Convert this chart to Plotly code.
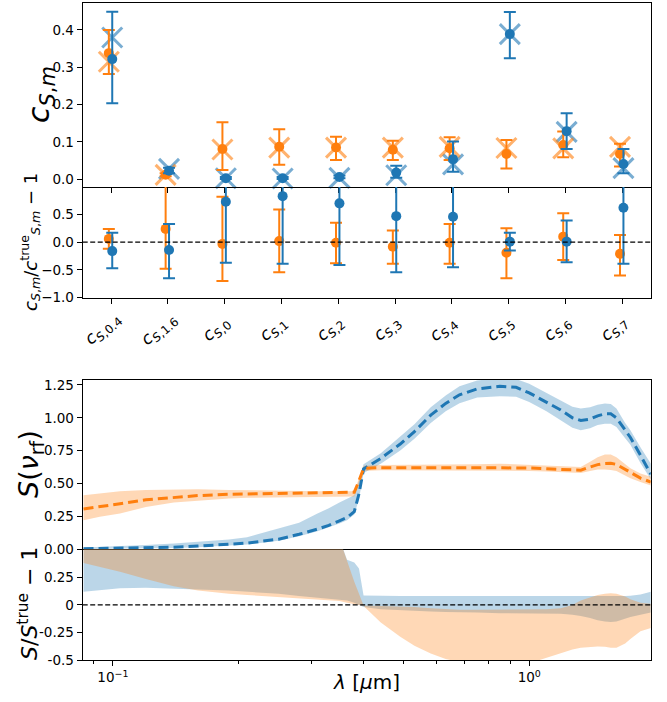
import numpy as np
import plotly.graph_objects as go

# ---------------- data: coefficient panels ----------------
cat_sub = ["0.4", "1.6", "0", "1", "2", "3", "4", "5", "6", "7"]

blue_c = [0.322, 0.023, 0.003, 0.003, 0.006, 0.018, 0.054, 0.389, 0.129, 0.041]
blue_c_hi = [0.449, 0.031, 0.006, 0.006, 0.010, 0.036, 0.101, 0.448, 0.177, 0.081]
blue_c_lo = [0.204, 0.016, 0.001, 0.001, 0.003, 0.004, 0.020, 0.324, 0.081, 0.016]
blue_c_true = [0.380, 0.028, 0.003, 0.002, 0.004, 0.011, 0.040, 0.389, 0.127, 0.030]

orange_c = [0.338, 0.012, 0.081, 0.087, 0.085, 0.079, 0.083, 0.068, 0.092, 0.068]
orange_c_hi = [0.400, 0.016, 0.153, 0.134, 0.114, 0.103, 0.113, 0.105, 0.128, 0.095]
orange_c_lo = [0.282, 0.008, 0.025, 0.039, 0.052, 0.052, 0.052, 0.029, 0.059, 0.034]
orange_c_true = [0.315, 0.012, 0.080, 0.085, 0.085, 0.085, 0.087, 0.084, 0.083, 0.087]

orange_r = [0.06, 0.24, -0.03, 0.02, -0.01, -0.08, -0.01, -0.19, 0.10, -0.21]
orange_r_hi = [0.24, 1.2, 0.82, 0.59, 0.35, 0.21, 0.33, 0.25, 0.52, 0.13]
orange_r_lo = [-0.12, -0.48, -0.70, -0.54, -0.38, -0.39, -0.39, -0.65, -0.32, -0.60]
blue_r = [-0.16, -0.14, 0.73, 0.83, 0.70, 0.47, 0.46, 0.01, 0.01, 0.62]
blue_r_hi = [0.17, 0.33, 1.2, 1.2, 1.2, 1.2, 1.2, 0.17, 0.39, 1.2]
blue_r_lo = [-0.47, -0.65, -0.37, -0.39, -0.41, -0.54, -0.45, -0.15, -0.36, -0.39]

# ---------------- data: spectra panels ----------------
lam = [0.085, 0.093, 0.104, 0.12, 0.14, 0.16, 0.19, 0.21, 0.25, 0.28,
       0.31, 0.33, 0.35, 0.365, 0.38, 0.39, 0.40, 0.44, 0.49, 0.53,
       0.58, 0.63, 0.68, 0.75, 0.85, 0.93, 1.0, 1.1, 1.19, 1.27,
       1.33, 1.40, 1.46, 1.52, 1.57, 1.62, 1.70, 1.75, 1.85, 1.96]

blue_S = [0.002, 0.004, 0.006, 0.009, 0.014, 0.022, 0.035, 0.045, 0.075, 0.112,
          0.152, 0.18, 0.215, 0.24, 0.285, 0.42, 0.61, 0.69, 0.80, 0.895,
          1.02, 1.11, 1.175, 1.22, 1.24, 1.232, 1.19, 1.12, 1.06, 1.00,
          0.98, 0.99, 1.015, 1.03, 1.03, 1.0, 0.905, 0.85, 0.715, 0.57]
blue_S_lo = [0.0, 0.001, 0.002, 0.004, 0.008, 0.014, 0.025, 0.034, 0.062, 0.097,
             0.135, 0.165, 0.195, 0.22, 0.262, 0.38, 0.58, 0.65, 0.75, 0.84,
             0.96, 1.05, 1.11, 1.155, 1.165, 1.16, 1.12, 1.05, 0.98, 0.925,
             0.905, 0.92, 0.945, 0.955, 0.955, 0.93, 0.845, 0.795, 0.655, 0.53]
blue_S_hi = [0.012, 0.016, 0.022, 0.03, 0.042, 0.055, 0.072, 0.09, 0.16, 0.2,
             0.27, 0.31, 0.355, 0.385, 0.41, 0.52, 0.645, 0.73, 0.855, 0.95,
             1.08, 1.17, 1.24, 1.285, 1.30, 1.295, 1.26, 1.19, 1.134, 1.085,
             1.07, 1.08, 1.10, 1.108, 1.105, 1.07, 0.96, 0.905, 0.775, 0.65]

orange_S = [0.305, 0.325, 0.345, 0.375, 0.395, 0.407, 0.417, 0.42, 0.425, 0.428,
            0.43, 0.432, 0.433, 0.433, 0.433, 0.52, 0.615, 0.62, 0.62, 0.62,
            0.62, 0.62, 0.62, 0.622, 0.622, 0.62, 0.618, 0.612, 0.606, 0.60,
            0.60, 0.625, 0.643, 0.652, 0.654, 0.645, 0.605, 0.58, 0.54, 0.51]
orange_S_lo = [0.22, 0.245, 0.27, 0.32, 0.355, 0.37, 0.385, 0.39, 0.392, 0.393,
               0.395, 0.395, 0.397, 0.40, 0.40, 0.50, 0.595, 0.60, 0.60, 0.60,
               0.60, 0.60, 0.60, 0.60, 0.60, 0.598, 0.595, 0.59, 0.585, 0.58,
               0.58, 0.595, 0.605, 0.605, 0.603, 0.595, 0.56, 0.54, 0.51, 0.484]
orange_S_hi = [0.41, 0.425, 0.44, 0.45, 0.455, 0.455, 0.45, 0.447, 0.443, 0.44,
               0.44, 0.44, 0.44, 0.44, 0.44, 0.54, 0.635, 0.64, 0.64, 0.64,
               0.64, 0.64, 0.64, 0.645, 0.65, 0.645, 0.64, 0.635, 0.63, 0.625,
               0.625, 0.665, 0.70, 0.72, 0.72, 0.70, 0.645, 0.615, 0.575, 0.55]

blue_R_lo = [0.12, 0.135, 0.15, 0.155, 0.15, 0.14, 0.13, 0.12, 0.10, 0.08,
             0.065, 0.055, 0.05, 0.04, 0.02, 0.0, -0.02, -0.04, -0.05, -0.055,
             -0.06, -0.065, -0.07, -0.07, -0.075, -0.075, -0.075, -0.075, -0.08, -0.09,
             -0.10, -0.12, -0.14, -0.15, -0.155, -0.15, -0.125, -0.11, -0.09, -0.07]
blue_R_hi = [0.9, 0.9, 0.9, 0.9, 0.9, 0.9, 0.9, 0.9, 0.9, 0.9,
             0.9, 0.9, 0.6, 0.41, 0.385, 0.33, 0.085, 0.08, 0.08, 0.08,
             0.08, 0.08, 0.08, 0.08, 0.078, 0.077, 0.076, 0.075, 0.075, 0.075,
             0.075, 0.075, 0.077, 0.08, 0.08, 0.08, 0.08, 0.083, 0.095, 0.12]
orange_R_lo = [0.38, 0.345, 0.30, 0.235, 0.17, 0.13, 0.10, 0.09, 0.07, 0.055,
               0.045, 0.04, 0.035, 0.02, 0.01, 0.0, -0.01, -0.16, -0.29, -0.37,
               -0.44, -0.49, -0.52, -0.55, -0.56, -0.55, -0.53, -0.48, -0.44, -0.405,
               -0.39, -0.38, -0.378, -0.38, -0.39, -0.39, -0.35, -0.31, -0.24, -0.21]
orange_R_hi = [0.9, 0.9, 0.9, 0.9, 0.9, 0.9, 0.9, 0.9, 0.9, 0.9,
               0.9, 0.9, 0.6, 0.395, 0.21, 0.1, -0.005, -0.01, -0.015, -0.02,
               -0.03, -0.04, -0.045, -0.045, -0.045, -0.045, -0.045, -0.04, -0.03, 0.0,
               0.04, 0.07, 0.09, 0.10, 0.105, 0.10, 0.075, 0.05, 0.02, 0.01]

# ---------------- style ----------------
BLUE = "#1f77b4"
ORANGE = "#ff7f0e"
BLUE_A = "rgba(31,119,180,0.6)"
ORANGE_A = "rgba(255,127,14,0.6)"
BLUE_F = "rgba(31,119,180,0.3)"
ORANGE_F = "rgba(255,127,14,0.3)"
FONT = "DejaVu Sans"
W, H = 667, 702

def px_x(p):
    return p / W

def px_y(p):
    return 1 - p / H

XD = [px_x(82.7), px_x(650.7)]
idx = np.arange(len(cat_sub))
x_orange = idx - 0.04
x_blue = idx + 0.02

fig = go.Figure()

def asym(vals, hi, lo):
    v = np.array(vals)
    return dict(type="data", symmetric=False,
                array=(np.array(hi) - v).tolist(),
                arrayminus=(v - np.array(lo)).tolist())

# panel 1: true values (crosses)
for xs, tv, col in [(x_blue, blue_c_true, BLUE_A), (x_orange, orange_c_true, ORANGE_A)]:
    fig.add_trace(go.Scatter(x=xs, y=tv, mode="markers", xaxis="x", yaxis="y",
                             cliponaxis=False,
                             marker=dict(symbol="x-thin", size=20,
                                         line=dict(width=3, color=col))))
# panel 1: estimates with errors
for xs, v, hi, lo, col in [(x_orange, orange_c, orange_c_hi, orange_c_lo, ORANGE),
                           (x_blue, blue_c, blue_c_hi, blue_c_lo, BLUE)]:
    ey = asym(v, hi, lo)
    ey.update(color=col, thickness=2, width=6)
    fig.add_trace(go.Scatter(x=xs, y=v, mode="markers", xaxis="x", yaxis="y",
                             cliponaxis=False, error_y=ey,
                             marker=dict(size=10, color=col)))

# panel 2: ratios
for xs, v, hi, lo, col in [(x_orange, orange_r, orange_r_hi, orange_r_lo, ORANGE),
                           (x_blue, blue_r, blue_r_hi, blue_r_lo, BLUE)]:
    ey = asym(v, hi, lo)
    ey.update(color=col, thickness=2, width=6)
    fig.add_trace(go.Scatter(x=xs, y=v, mode="markers", xaxis="x2", yaxis="y2",
                             cliponaxis=True, error_y=ey,
                             marker=dict(size=10, color=col)))

# panel 3: bands and dashed curves
for lo, hi, fc in [(blue_S_lo, blue_S_hi, BLUE_F), (orange_S_lo, orange_S_hi, ORANGE_F)]:
    fig.add_trace(go.Scatter(x=lam, y=lo, mode="lines", line=dict(width=0),
                             xaxis="x3", yaxis="y3"))
    fig.add_trace(go.Scatter(x=lam, y=hi, mode="lines", line=dict(width=0),
                             fill="tonexty", fillcolor=fc, xaxis="x3", yaxis="y3"))
for s, col in [(blue_S, BLUE), (orange_S, ORANGE)]:
    fig.add_trace(go.Scatter(x=lam, y=s, mode="lines", xaxis="x3", yaxis="y3",
                             line=dict(color=col, width=3, dash="10px,5px")))

# panel 4: ratio bands
for lo, hi, fc in [(blue_R_lo, blue_R_hi, BLUE_F), (orange_R_lo, orange_R_hi, ORANGE_F)]:
    fig.add_trace(go.Scatter(x=lam, y=lo, mode="lines", line=dict(width=0),
                             xaxis="x4", yaxis="y4"))
    fig.add_trace(go.Scatter(x=lam, y=hi, mode="lines", line=dict(width=0),
                             fill="tonexty", fillcolor=fc, xaxis="x4", yaxis="y4"))

# zero reference lines
for xr, yr in [("x2 domain", "y2"), ("x4 domain", "y4")]:
    fig.add_shape(type="line", xref=xr, yref=yr, x0=0, x1=1, y0=0, y1=0,
                  line=dict(color="black", width=1.3, dash="5px,2.5px"), layer="above")

tickfont = dict(family=FONT, size=13.5, color="black")
common = dict(showline=True, linecolor="black", linewidth=1.1,
              showgrid=False, zeroline=False, tickfont=tickfont, automargin=False,
              ticks="outside", ticklen=5, tickwidth=1.1, tickcolor="black")

y1d = [px_y(187), px_y(3)]
y2d = [px_y(297.7), px_y(187)]
y3d = [px_y(549), px_y(380)]
y4d = [px_y(660), px_y(549)]

fig.update_layout(
    width=W, height=H, margin=dict(l=0, r=0, t=0, b=0, autoexpand=False),
    paper_bgcolor="white", plot_bgcolor="white", showlegend=False,
    xaxis=dict(domain=XD, anchor="y", range=[-0.5, 9.5], tickvals=idx.tolist(),
               showticklabels=False, mirror=True, **common),
    yaxis=dict(domain=y1d, anchor="x", range=[-0.0206, 0.4723], mirror=True,
               tickvals=[0, 0.1, 0.2, 0.3, 0.4],
               ticktext=["0.0", "0.1", "0.2", "0.3", "0.4"], **common),
    xaxis2=dict(domain=XD, anchor="y2", range=[-0.5, 9.5], tickvals=idx.tolist(),
                showticklabels=False, mirror=False, **common),
    yaxis2=dict(domain=y2d, anchor="x2", range=[-1.0, 0.995], mirror=True,
                tickvals=[-1.0, -0.5, 0.0, 0.5],
                ticktext=["\u22121.0", "\u22120.5", "0.0", "0.5"], **common),
    xaxis3=dict(domain=XD, anchor="y3", type="log", range=[-1.0726, 0.2918],
                showticklabels=False, showline=True, mirror=True, linecolor="black",
                linewidth=1.1, showgrid=False, zeroline=False, ticks="", automargin=False),
    yaxis3=dict(domain=y3d, anchor="x3", range=[0, 1.288], mirror=True,
                tickvals=[0, 0.25, 0.5, 0.75, 1.0, 1.25],
                ticktext=["0.00", "0.25", "0.50", "0.75", "1.00", "1.25"], **common),
    xaxis4=dict(domain=XD, anchor="y4", type="log", range=[-1.0726, 0.2918],
                tickvals=[0.1, 1.0], ticktext=["10<sup>\u22121</sup>", "10<sup>0</sup>"],
                mirror=False,
                minor=dict(ticks="outside", ticklen=3, tickwidth=0.8, tickcolor="black",
                           tickvals=[0.09, 0.2, 0.3, 0.4, 0.5, 0.6, 0.7, 0.8, 0.9]),
                **common),
    yaxis4=dict(domain=y4d, anchor="x4", range=[-0.5, 0.507], mirror=True,
                tickvals=[-0.5, -0.25, 0, 0.25],
                ticktext=["-0.5", "-0.25", "0", "0.25"], **common),
)

# category labels (rotated, centred on ticks)
for i, s in enumerate(cat_sub):
    fig.add_annotation(x=i - 0.15, y=px_y(329), xref="x2", yref="paper",
                       text=f"<i>c</i><sub><i>S</i>,{s}</sub>", showarrow=False,
                       textangle=-40, xanchor="center", yanchor="middle",
                       font=dict(family=FONT, size=17, color="black"))

# axis titles
titles = [
    ("<i>c</i><sub><i>S</i>,<i>m</i></sub>", 40, 95, 30),
    ("<i>c</i><sub><i>S</i>,<i>m</i></sub>/<i>c</i><sup>true</sup><sub><i>S</i>,<i>m</i></sub> \u2212 1", 30, 242, 18),
    ("<i>S</i>(<i>\u03bd</i><sub>rf</sub>)", 31, 464, 27),
    ("<i>S</i>/<i>S</i><sup>true</sup> \u2212 1", 28, 604, 22),
]
for txt, xp, yp, fs in titles:
    fig.add_annotation(x=px_x(xp), y=px_y(yp), xref="paper", yref="paper",
                       text=txt, showarrow=False, textangle=-90,
                       xanchor="center", yanchor="middle",
                       font=dict(family=FONT, size=fs, color="black"))
fig.add_annotation(x=px_x(366.7), y=px_y(682), xref="paper", yref="paper",
                   text="<i>\u03bb</i> [<i>\u03bc</i>m]", showarrow=False,
                   xanchor="center", yanchor="middle",
                   font=dict(family=FONT, size=20, color="black"))

fig.write_html("out.html", config={"displayModeBar": False},
               post_script="document.body.style.margin='0';")
